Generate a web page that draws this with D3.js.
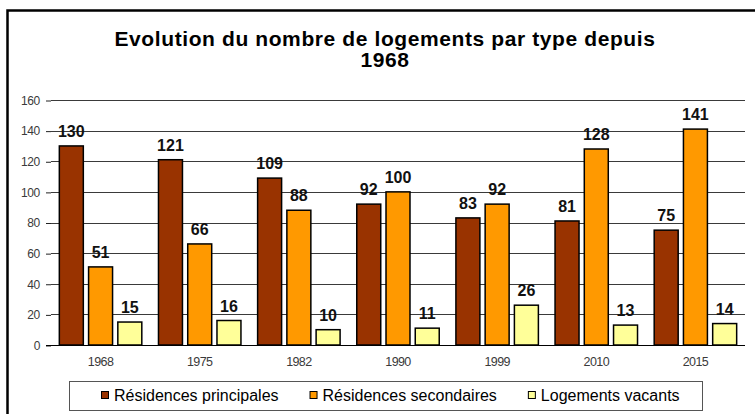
<!DOCTYPE html>
<html>
<head>
<meta charset="utf-8">
<script src="https://cdn.jsdelivr.net/npm/d3@7"></script>
<style>
	body { margin: 0; background: #fff; }
	svg { display: block; font-family: "Liberation Sans", Arial, sans-serif; }
</style>
</head>
<body>
<svg id="chart" width="755" height="414"></svg>
<script>
var years = ["1968", "1975", "1982", "1990", "1999", "2010", "2015"];
var seriesNames = ["Résidences principales", "Résidences secondaires", "Logements vacants"];
var principales = [130, 121, 109, 92, 83, 81, 75];
var secondaires = [51, 66, 88, 100, 92, 128, 141];
var vacants = [15, 16, 10, 11, 26, 13, 14];
var yTicks = [0, 20, 40, 60, 80, 100, 120, 140, 160];
var colors = ["#993300", "#FF9900", "#FFFF99"];

var seriesValues = [principales, secondaires, vacants];

var svg = d3.select("#chart");

// frame around the chart area
svg.append("rect")
	.attr("x", 7.5).attr("y", 10.5)
	.attr("width", 760).attr("height", 420)
	.attr("fill", "#fff")
	.attr("stroke", "#000")
	.attr("stroke-width", 2.5);

// title
var title = svg.append("text")
	.attr("text-anchor", "middle")
	.attr("font-size", "21px")
	.attr("font-weight", "bold")
	.attr("letter-spacing", "0.6px")
	.attr("fill", "#000");
title.append("tspan").attr("x", 385).attr("y", 46).text("Evolution du nombre de logements par type depuis");
title.append("tspan").attr("x", 385).attr("y", 67).text("1968");

var plot = { left: 51, right: 745, top: 100, bottom: 345 };

var x0 = d3.scaleBand()
	.domain(years)
	.range([plot.left, plot.right])
	.padding(0);

var x1 = d3.scaleBand()
	.domain(d3.range(seriesNames.length))
	.range([0, x0.bandwidth()])
	.paddingInner(0.18)
	.paddingOuter(0.285);

var y = d3.scaleLinear()
	.domain([0, 160])
	.range([plot.bottom, plot.top]);

// gridlines
svg.append("g")
	.selectAll("line")
	.data(yTicks.filter(function(d) { return d > 0; }))
	.enter().append("line")
	.attr("x1", plot.left).attr("x2", plot.right)
	.attr("y1", function(d) { return Math.round(y(d)) + 0.5; })
	.attr("y2", function(d) { return Math.round(y(d)) + 0.5; })
	.attr("stroke", "#3a3a3a")
	.attr("stroke-width", 1);

// y axis labels + ticks
var yAxis = d3.axisLeft(y)
	.tickValues(yTicks)
	.tickSize(5)
	.tickPadding(6)
	.tickFormat(d3.format("d"));

var gy = svg.append("g")
	.attr("transform", "translate(" + plot.left + ",0.5)")
	.call(yAxis);
gy.select(".domain").remove();
gy.selectAll(".tick line").attr("stroke", "#222");
gy.selectAll(".tick text")
	.style("font-size", "12px")
	.attr("letter-spacing", "-0.3px")
	.attr("font-family", "Liberation Sans, Arial, sans-serif")
	.attr("fill", "#3a3a3a");

// bars
var groups = svg.append("g")
	.selectAll("g")
	.data(years)
	.enter().append("g")
	.attr("transform", function(d) { return "translate(" + x0(d) + ",0)"; });

groups.selectAll("rect")
	.data(function(d, i) { return seriesValues.map(function(s, j) { return { s: j, v: s[i] }; }); })
	.enter().append("rect")
	.attr("x", function(d) { return x1(d.s); })
	.attr("width", x1.bandwidth())
	.attr("y", function(d) { return y(d.v); })
	.attr("height", function(d) { return y(0) - y(d.v); })
	.attr("fill", function(d) { return colors[d.s]; })
	.attr("stroke", "#000")
	.attr("stroke-width", 1.5);

groups.selectAll("text.val")
	.data(function(d, i) { return seriesValues.map(function(s, j) { return { s: j, v: s[i] }; }); })
	.enter().append("text")
	.attr("class", "val")
	.attr("x", function(d) { return x1(d.s) + x1.bandwidth() / 2; })
	.attr("y", function(d) { return y(d.v) - 9; })
	.attr("text-anchor", "middle")
	.attr("font-size", "16px")
	.attr("font-weight", "bold")
	.attr("fill", "#111")
	.text(function(d) { return d.v; });

// baseline (x axis)
var xAxis = d3.axisBottom(x0).tickSize(0).tickPadding(12);
var gx = svg.append("g")
	.attr("transform", "translate(0," + (plot.bottom + 0.5) + ")")
	.call(xAxis);
gx.select(".domain").attr("d", "M" + (plot.left - 5) + ",0H" + plot.right).attr("stroke", "#000");
gx.selectAll(".tick text")
	.style("font-size", "12.5px")
	.attr("letter-spacing", "-0.6px")
	.attr("font-family", "Liberation Sans, Arial, sans-serif")
	.attr("fill", "#3a3a3a");

// legend
var legend = svg.append("g");
legend.append("rect")
	.attr("x", 69.5).attr("y", 381.5)
	.attr("width", 633).attr("height", 29)
	.attr("fill", "#fff")
	.attr("stroke", "#555")
	.attr("stroke-width", 1);

var lx = 101;
seriesNames.forEach(function(name, i) {
	legend.append("rect")
		.attr("x", lx + 0.5).attr("y", 391.5)
		.attr("width", 7).attr("height", 7)
		.attr("fill", colors[i])
		.attr("stroke", "#000")
		.attr("stroke-width", 1);
	var t = legend.append("text")
		.attr("x", lx + 13).attr("y", 401)
		.attr("font-size", "16px")
		.attr("fill", "#000")
		.text(name);
	lx += 13 + t.node().getComputedTextLength() + 31;
});
</script>
</body>
</html>
